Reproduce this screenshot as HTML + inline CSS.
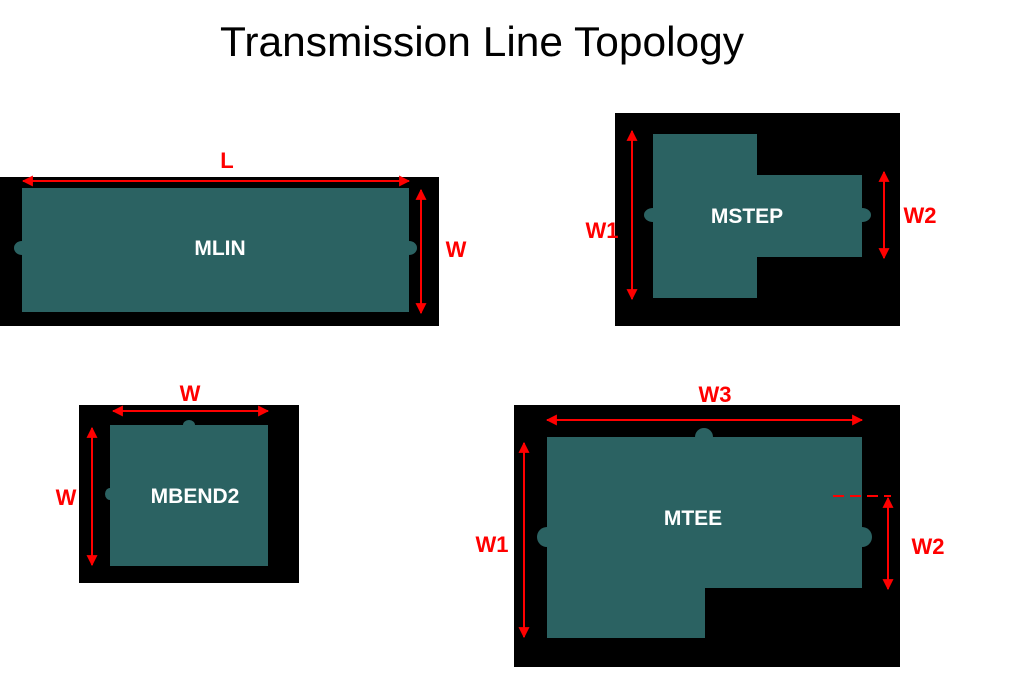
<!DOCTYPE html>
<html><head><meta charset="utf-8"><style>
html,body{margin:0;padding:0;background:#fff}
svg{display:block}
text{font-family:"Liberation Sans",Arial,sans-serif}
</style></head><body>
<svg width="1013" height="677" viewBox="0 0 1013 677" xmlns="http://www.w3.org/2000/svg">
<defs>
<marker id="a" viewBox="0 0 10 10" refX="9" refY="5" markerWidth="5.5" markerHeight="5.5" orient="auto-start-reverse"><path d="M0,0 L10,5 L0,10 z" fill="#f00"/></marker>
</defs>
<text x="482" y="56" font-size="42" text-anchor="middle" fill="#000" textLength="524" lengthAdjust="spacingAndGlyphs">Transmission Line Topology</text>

<!-- MLIN -->
<rect x="0" y="177" width="439" height="149" fill="#000"/>
<ellipse cx="22" cy="248" rx="8" ry="7" fill="#2b6262"/>
<ellipse cx="409" cy="248" rx="8" ry="7" fill="#2b6262"/>
<rect x="22" y="188" width="387" height="124" fill="#2b6262"/>
<line x1="23" y1="181" x2="409" y2="181" stroke="#f00" stroke-width="2" marker-start="url(#a)" marker-end="url(#a)"/>
<line x1="421" y1="190" x2="421" y2="313" stroke="#f00" stroke-width="2" marker-start="url(#a)" marker-end="url(#a)"/>
<text x="227" y="168" font-size="22" font-weight="bold" fill="#f00" text-anchor="middle">L</text>
<text x="456" y="257" font-size="22" font-weight="bold" fill="#f00" text-anchor="middle">W</text>
<text x="220" y="255" font-size="21" font-weight="bold" fill="#fff" text-anchor="middle">MLIN</text>

<!-- MSTEP -->
<rect x="615" y="113" width="285" height="213" fill="#000"/>
<ellipse cx="653" cy="215" rx="9" ry="7" fill="#2b6262"/>
<ellipse cx="862" cy="215" rx="9" ry="7" fill="#2b6262"/>
<rect x="653" y="134" width="104" height="164" fill="#2b6262"/>
<rect x="756" y="175" width="106" height="82" fill="#2b6262"/>
<line x1="632" y1="131" x2="632" y2="299" stroke="#f00" stroke-width="2" marker-start="url(#a)" marker-end="url(#a)"/>
<line x1="884" y1="172" x2="884" y2="258" stroke="#f00" stroke-width="2" marker-start="url(#a)" marker-end="url(#a)"/>
<text x="602" y="238" font-size="22" font-weight="bold" fill="#f00" text-anchor="middle">W1</text>
<text x="920" y="223" font-size="22" font-weight="bold" fill="#f00" text-anchor="middle">W2</text>
<text x="747" y="223" font-size="21" font-weight="bold" fill="#fff" text-anchor="middle">MSTEP</text>

<!-- MBEND2 -->
<rect x="79" y="405" width="220" height="178" fill="#000"/>
<ellipse cx="189" cy="425" rx="6" ry="5" fill="#2b6262"/>
<ellipse cx="110" cy="494" rx="5" ry="6" fill="#2b6262"/>
<rect x="110" y="425" width="158" height="141" fill="#2b6262"/>
<line x1="113" y1="411" x2="268" y2="411" stroke="#f00" stroke-width="2" marker-start="url(#a)" marker-end="url(#a)"/>
<line x1="92" y1="428" x2="92" y2="565" stroke="#f00" stroke-width="2" marker-start="url(#a)" marker-end="url(#a)"/>
<text x="190" y="401" font-size="22" font-weight="bold" fill="#f00" text-anchor="middle">W</text>
<text x="66" y="505" font-size="22" font-weight="bold" fill="#f00" text-anchor="middle">W</text>
<text x="195" y="503" font-size="21" font-weight="bold" fill="#fff" text-anchor="middle">MBEND2</text>

<!-- MTEE -->
<rect x="514" y="405" width="386" height="262" fill="#000"/>
<circle cx="704" cy="437" r="9" fill="#2b6262"/>
<circle cx="547" cy="537" r="10" fill="#2b6262"/>
<circle cx="862" cy="537" r="10" fill="#2b6262"/>
<path d="M547,437 H862 V588 H705 V638 H547 Z" fill="#2b6262"/>
<line x1="547" y1="420" x2="862" y2="420" stroke="#f00" stroke-width="2" marker-start="url(#a)" marker-end="url(#a)"/>
<line x1="524" y1="443" x2="524" y2="637" stroke="#f00" stroke-width="2" marker-start="url(#a)" marker-end="url(#a)"/>
<line x1="833" y1="496" x2="891" y2="496" stroke="#f00" stroke-width="2" stroke-dasharray="11,6"/>
<line x1="888" y1="498" x2="888" y2="589" stroke="#f00" stroke-width="2" marker-start="url(#a)" marker-end="url(#a)"/>
<text x="715" y="402" font-size="22" font-weight="bold" fill="#f00" text-anchor="middle">W3</text>
<text x="492" y="552" font-size="22" font-weight="bold" fill="#f00" text-anchor="middle">W1</text>
<text x="928" y="554" font-size="22" font-weight="bold" fill="#f00" text-anchor="middle">W2</text>
<text x="693" y="525" font-size="21" font-weight="bold" fill="#fff" text-anchor="middle">MTEE</text>
</svg>
</body></html>
